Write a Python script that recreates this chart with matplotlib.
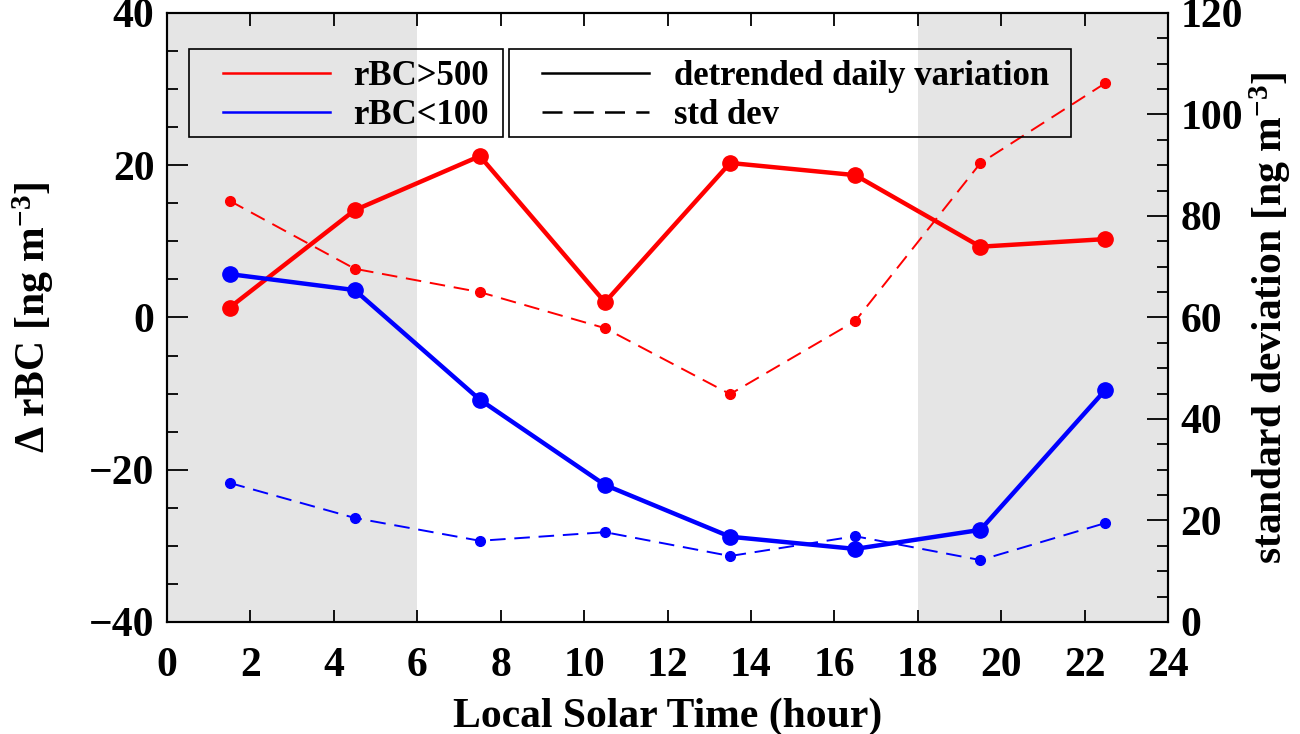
import numpy as np
import matplotlib
matplotlib.use("Agg")
import matplotlib.pyplot as plt
from matplotlib.lines import Line2D
from matplotlib.patches import Rectangle

plt.rcParams['font.family'] = ['Liberation Serif', 'DejaVu Serif']
plt.rcParams['font.weight'] = 'bold'
plt.rcParams['mathtext.fontset'] = 'custom'
plt.rcParams['mathtext.bf'] = 'Liberation Serif:bold'
plt.rcParams['mathtext.rm'] = 'Liberation Serif:bold'
plt.rcParams['mathtext.default'] = 'bf'

##DATA##
hours = [1.5, 4.5, 7.5, 10.5, 13.5, 16.5, 19.5, 22.5]
high_var = [1.3, 14.1, 21.2, 2.0, 20.3, 18.7, 9.3, 10.3]        # rBC>500 detrended
low_var = [5.7, 3.6, -10.8, -22.0, -28.8, -30.4, -27.9, -9.5]   # rBC<100 detrended
high_std = [83.0, 69.6, 65.0, 57.9, 44.9, 59.3, 90.4, 106.2]    # rBC>500 std dev
low_std = [27.4, 20.5, 16.0, 17.7, 13.0, 16.9, 12.2, 19.5]      # rBC<100 std dev
night_spans = [(0, 6), (18, 24)]

fig = plt.figure(figsize=(13.0, 7.34), dpi=100)
ax = fig.add_axes([0.1285, 0.1526, 0.77, 0.8297])
ax2 = ax.twinx()

for lo, hi in night_spans:
    ax.axvspan(lo, hi, color="#e5e5e5", lw=0, zorder=0)

#std dev on right axis
ax2.plot(hours, high_std, color="red", lw=1.4, ls=(0, (8, 4.5)), marker="o", ms=7)
ax2.plot(hours, low_std, color="blue", lw=1.4, ls=(0, (8, 4.5)), marker="o", ms=7)
#detrended variation on left axis
ax.plot(hours, high_var, color="red", lw=3.2, marker="o", ms=11, zorder=3)
ax.plot(hours, low_var, color="blue", lw=3.2, marker="o", ms=11, zorder=3)

ax.set_xlim(0, 24)
ax.set_ylim(-40, 40)
ax2.set_ylim(0, 120)
ax.set_xticks(np.arange(0, 25, 2))
ax.set_yticks([-40, -20, 0, 20, 40])
ax.set_yticks(np.arange(-40, 41, 5), minor=True)
ax2.set_yticks(np.arange(0, 121, 20))
ax2.set_yticks(np.arange(0, 121, 5), minor=True)

fs = 30
ax.tick_params(axis="x", which="major", direction="in", length=9, width=1.3,
               top=True, labelsize=fs, pad=18)
ax.tick_params(axis="y", which="major", direction="in", length=15, width=1.3,
               labelsize=fs, pad=9)
ax.tick_params(axis="y", which="minor", direction="in", length=8, width=1.3)
ax2.tick_params(axis="y", which="major", direction="in", length=15, width=1.3,
                labelsize=fs, pad=9)
ax2.tick_params(axis="y", which="minor", direction="in", length=8, width=1.3)
for a in (ax, ax2):
    for s in a.spines.values():
        s.set_linewidth(1.5)

ax.set_xlabel("Local Solar Time (hour)", fontsize=fs, fontweight="bold", labelpad=9)
ax.set_ylabel("\u0394 rBC [ng m$^{-3}$]", fontsize=fs, fontweight="bold", labelpad=24)
ax2.set_ylabel("standard deviation [ng m$^{-3}$]", fontsize=fs, fontweight="bold", labelpad=3)

#legend frames
for x0, x1 in [(0.022, 0.3357), (0.3417, 0.903)]:
    ax2.add_patch(Rectangle((x0, 0.796), x1 - x0, 0.145, transform=ax2.transAxes,
                            fill=False, edgecolor="black", lw=1.2, zorder=5))

lfs = 25
h1 = [Line2D([], [], color="red", lw=1.8), Line2D([], [], color="blue", lw=1.8)]
leg1 = ax2.legend(h1, ["rBC>500", "rBC<100"], loc="upper left",
                  bbox_to_anchor=(0.056, 0.922), fontsize=lfs, frameon=False,
                  handlelength=3.08, handletextpad=0.66, borderpad=0,
                  labelspacing=0.15, borderaxespad=0)
ax2.add_artist(leg1)
h2 = [Line2D([], [], color="black", lw=1.8),
      Line2D([], [], color="black", lw=1.8, ls=(0, (8, 4.5)))]
leg2 = ax2.legend(h2, ["detrended daily variation", "std dev"], loc="upper left",
                  bbox_to_anchor=(0.3746, 0.922), fontsize=lfs, frameon=False,
                  handlelength=3.08, handletextpad=0.72, borderpad=0,
                  labelspacing=0.15, borderaxespad=0)

fig.savefig("out.png", dpi=100)
